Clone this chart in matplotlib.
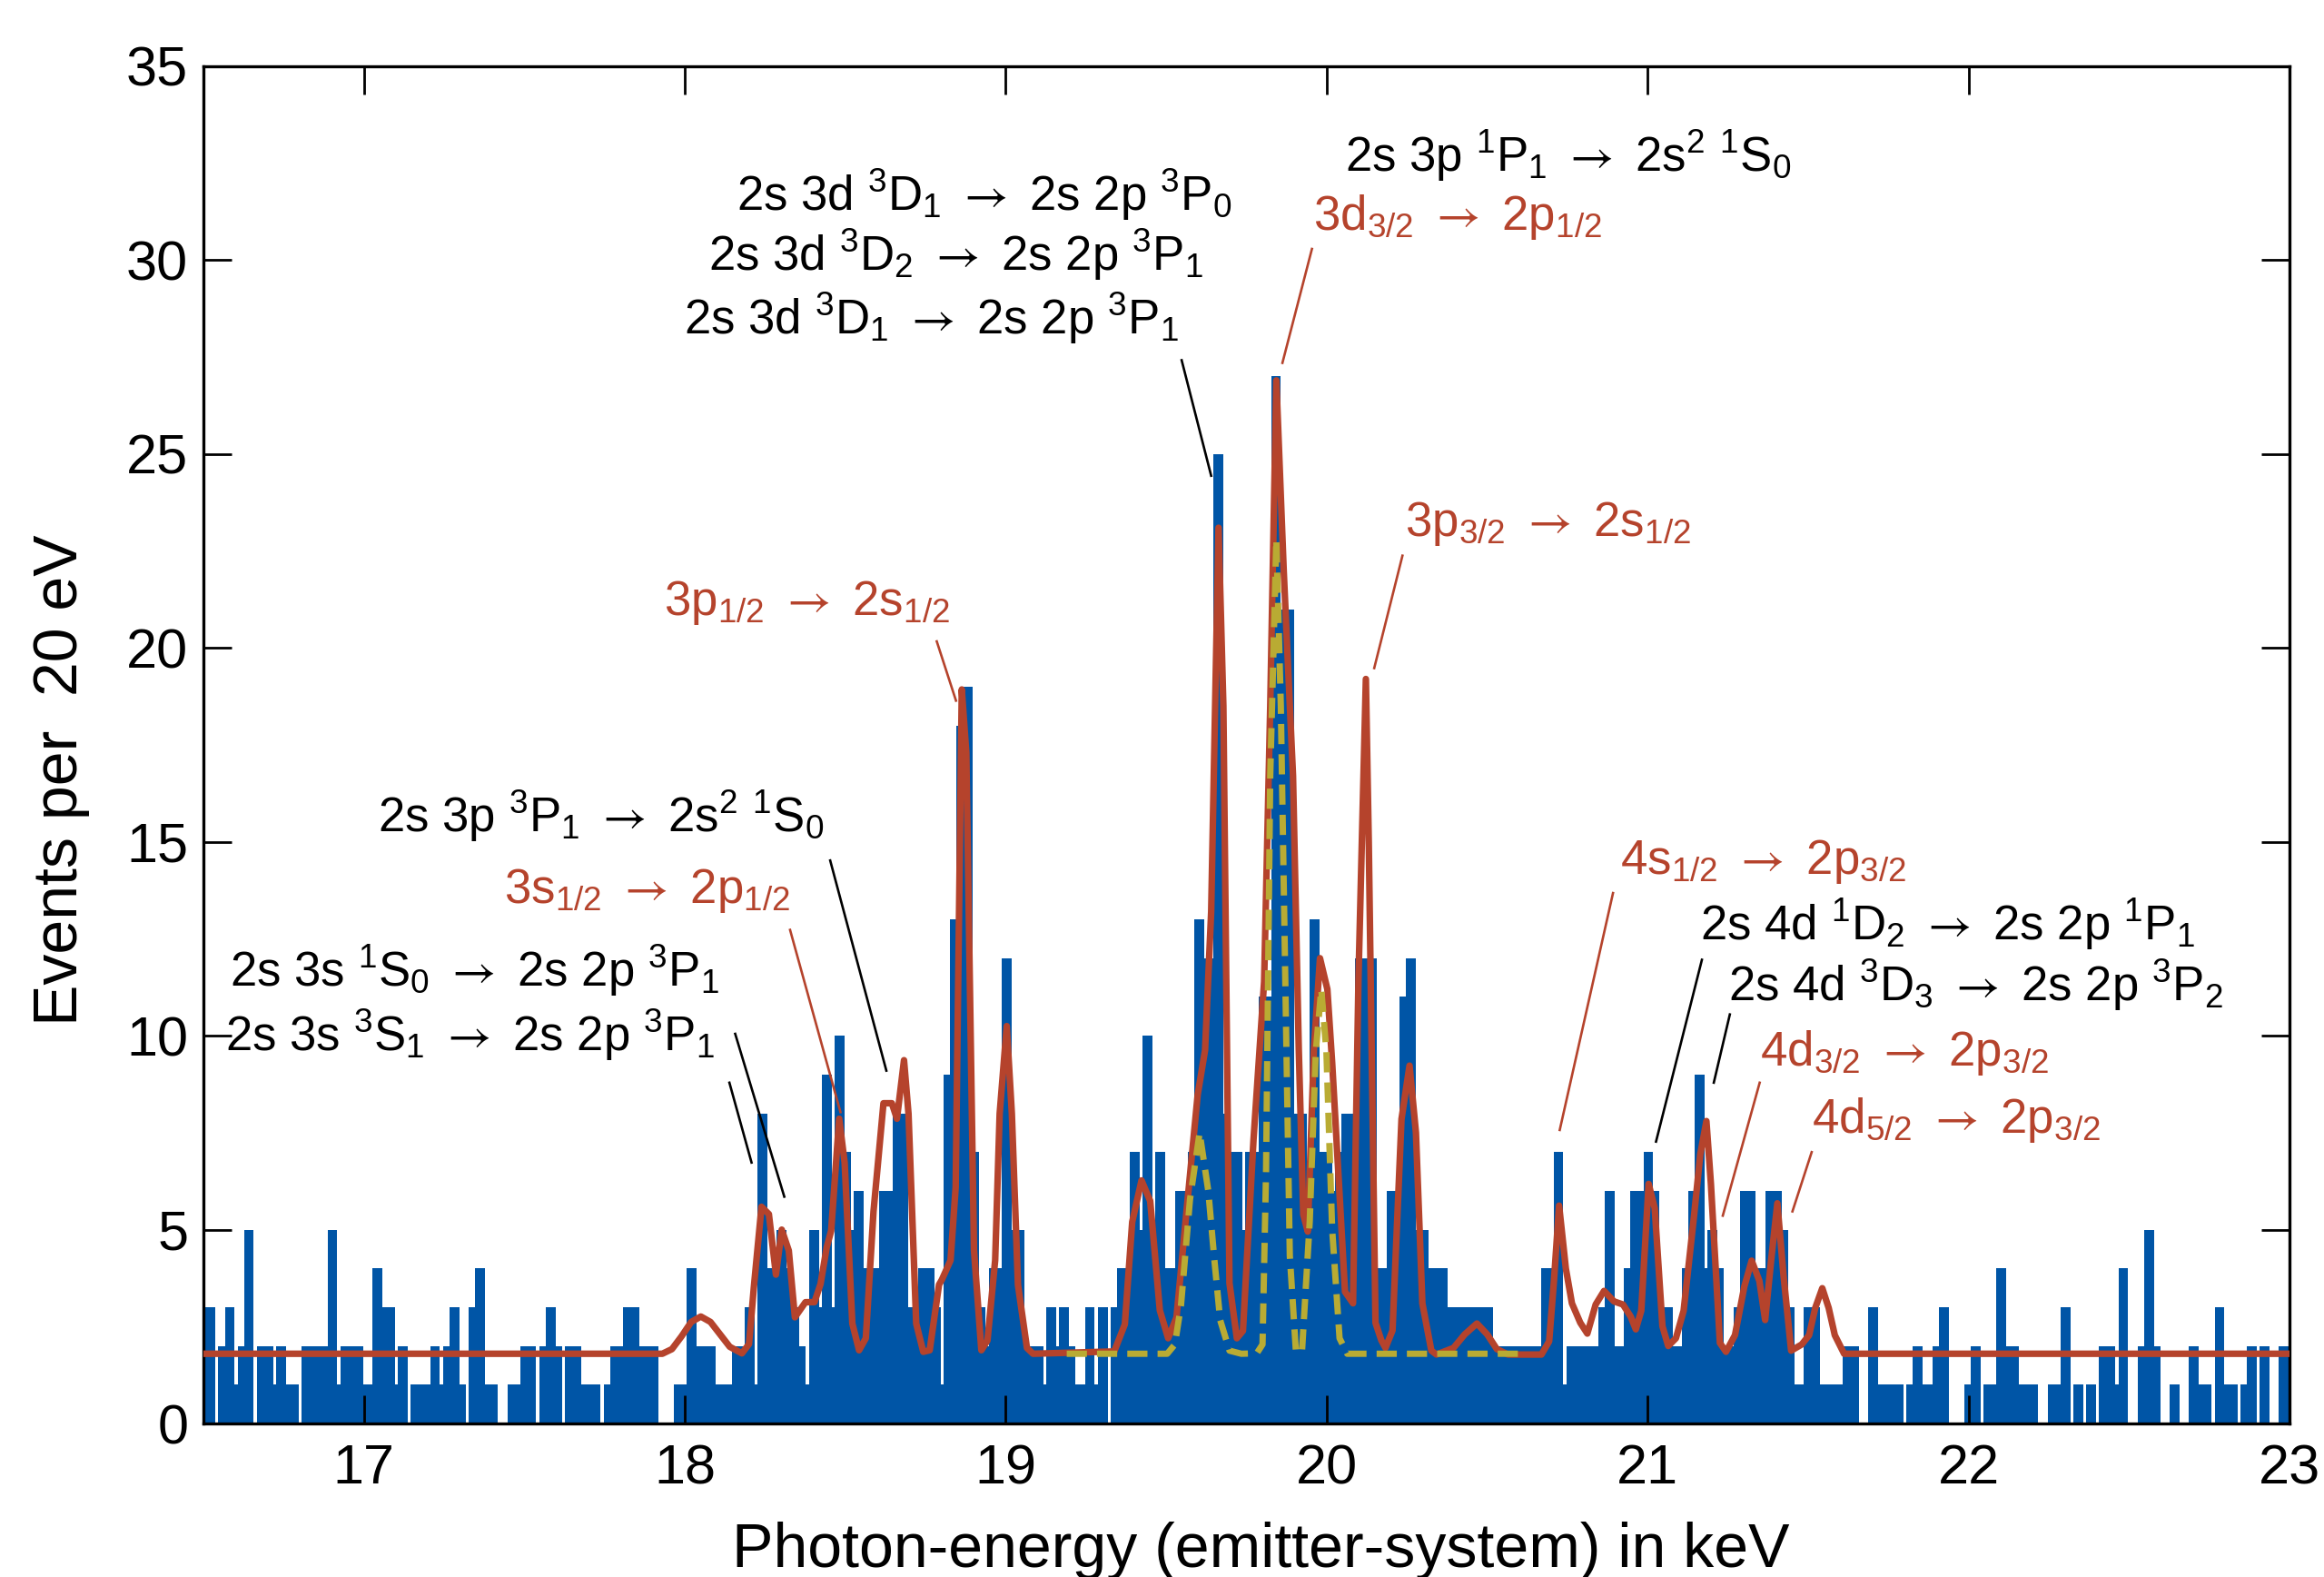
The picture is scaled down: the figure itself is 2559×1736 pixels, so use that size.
import numpy as np
import matplotlib.pyplot as plt

plt.rcParams['font.family'] = ['Liberation Sans', 'DejaVu Sans']
plt.rcParams['mathtext.fontset'] = 'custom'
plt.rcParams['mathtext.rm'] = 'Liberation Sans'
plt.rcParams['mathtext.it'] = 'Liberation Sans:italic'
plt.rcParams['mathtext.bf'] = 'Liberation Sans:bold'
plt.rcParams['mathtext.sf'] = 'STIXGeneral'

BLUE = '#0055A6'
RED = '#B5432C'
OLIVE = '#B9AB33'
ARROW = r'$\mathsf{\rightarrow}$'

# events per 20 eV bin, first bin centred at 16.502 keV
bin_start = 16.502
bin_step = 0.02
counts = [
    3, 3, 0, 2, 3, 1, 2, 5, 0, 2,
    2, 1, 2, 1, 1, 0, 2, 2, 2, 2,
    5, 1, 2, 2, 2, 1, 1, 4, 3, 3,
    1, 2, 0, 1, 1, 1, 2, 1, 2, 3,
    1, 0, 3, 4, 1, 1, 0, 0, 1, 1,
    2, 2, 0, 2, 3, 2, 0, 2, 2, 1,
    1, 1, 0, 1, 2, 2, 3, 3, 2, 2,
    2, 0, 0, 0, 1, 1, 4, 2, 2, 2,
    1, 1, 1, 2, 2, 3, 1, 8, 4, 4,
    5, 4, 3, 2, 1, 5, 3, 9, 3, 10,
    7, 5, 6, 4, 4, 4, 6, 6, 8, 8,
    3, 3, 4, 4, 3, 1, 9, 13, 18, 19,
    7, 3, 2, 4, 4, 12, 5, 5, 2, 2,
    2, 1, 3, 2, 3, 2, 1, 1, 3, 1,
    3, 0, 3, 4, 4, 7, 5, 10, 5, 7,
    4, 4, 6, 6, 7, 13, 12, 12, 25, 8,
    7, 7, 5, 7, 7, 11, 11, 27, 21, 21,
    8, 8, 6, 13, 7, 7, 6, 7, 8, 8,
    12, 12, 12, 4, 4, 6, 6, 11, 12, 5,
    5, 4, 4, 4, 3, 3, 3, 3, 3, 3,
    3, 2, 2, 2, 2, 2, 2, 2, 2, 4,
    4, 7, 1, 2, 2, 2, 2, 2, 3, 6,
    2, 2, 4, 6, 6, 7, 6, 3, 3, 2,
    2, 4, 6, 9, 4, 5, 4, 2, 2, 3,
    6, 6, 4, 4, 6, 6, 5, 3, 1, 1,
    3, 3, 1, 1, 1, 1, 2, 2, 0, 0,
    3, 1, 1, 1, 1, 0, 1, 2, 1, 1,
    2, 3, 0, 0, 0, 1, 2, 0, 1, 1,
    4, 2, 2, 1, 1, 1, 0, 0, 1, 1,
    3, 0, 1, 0, 1, 0, 2, 2, 1, 4,
    0, 0, 2, 5, 2, 0, 0, 1, 0, 0,
    2, 1, 1, 0, 3, 1, 1, 0, 1, 2,
    0, 2, 0, 0, 2,
]

# fitted spectrum (red)
fit_energy = [
    16.5, 17.93, 17.96, 17.99, 18.02, 18.05, 18.08, 18.11, 18.14, 18.178,
    18.20, 18.215, 18.239, 18.262, 18.284, 18.302, 18.324, 18.343, 18.376, 18.404,
    18.423, 18.442, 18.456, 18.481, 18.498, 18.522, 18.543, 18.564, 18.588, 18.619,
    18.645, 18.661, 18.683, 18.697, 18.721, 18.743, 18.763, 18.792, 18.801, 18.828,
    18.844, 18.863, 18.877, 18.901, 18.924, 18.943, 18.967, 18.981, 19.003, 19.019,
    19.038, 19.066, 19.085, 19.338, 19.371, 19.394, 19.423, 19.450, 19.480, 19.506,
    19.532, 19.560, 19.598, 19.621, 19.640, 19.663, 19.678, 19.697, 19.720, 19.739,
    19.772, 19.805, 19.824, 19.843, 19.866, 19.895, 19.913, 19.927, 19.941, 19.960,
    19.979, 20.002, 20.017, 20.057, 20.082, 20.099, 20.122, 20.131, 20.152, 20.170,
    20.183, 20.205, 20.233, 20.258, 20.278, 20.298, 20.326, 20.342, 20.395, 20.430,
    20.468, 20.500, 20.530, 20.565, 20.669, 20.693, 20.708, 20.724, 20.745, 20.764,
    20.790, 20.812, 20.838, 20.864, 20.895, 20.923, 20.947, 20.963, 20.980, 21.003,
    21.022, 21.046, 21.064, 21.088, 21.112, 21.145, 21.164, 21.183, 21.197, 21.225,
    21.244, 21.272, 21.301, 21.324, 21.348, 21.366, 21.385, 21.404, 21.423, 21.447,
    21.480, 21.503, 21.522, 21.544, 21.564, 21.583, 21.612, 23.0,
]
fit_counts = [
    1.8, 1.8, 1.92, 2.25, 2.62, 2.76, 2.62, 2.30, 1.98, 1.81,
    2.05, 3.5, 5.59, 5.4, 3.84, 5.0, 4.46, 2.74, 3.13, 3.13,
    3.6, 4.54, 4.97, 7.86, 6.73, 2.58, 1.89, 2.2, 5.47, 8.26,
    8.26, 7.86, 9.37, 7.99, 2.58, 1.85, 1.89, 3.58, 3.71, 4.21,
    6.1, 18.93, 17.3, 4.47, 1.89, 2.14, 4.21, 7.99, 10.25, 7.99,
    3.58, 1.95, 1.8, 1.86, 2.56, 5.2, 6.27, 5.74, 2.92, 2.2,
    2.74, 5.2, 8.48, 9.63, 13.2, 23.1, 18.5, 3.62, 2.2, 2.39,
    7.33, 11.4, 18.5, 26.9, 22.0, 16.7, 9.63, 5.39, 4.95, 9.63,
    12.0, 11.2, 9.3, 3.4, 3.1, 11.5, 19.2, 15.0, 2.6, 2.15,
    1.95, 2.4, 7.85, 9.23, 7.5, 3.1, 1.88, 1.78, 1.95, 2.3,
    2.58, 2.3, 1.92, 1.78, 1.78, 2.12, 3.68, 5.62, 4.0, 3.1,
    2.6, 2.32, 3.07, 3.42, 3.15, 3.07, 2.76, 2.43, 2.91, 6.18,
    5.55, 2.51, 2.0, 2.2, 2.91, 5.4, 6.95, 7.8, 6.18, 2.08,
    1.85, 2.28, 3.53, 4.2, 3.68, 2.67, 4.24, 5.68, 3.84, 1.88,
    2.04, 2.28, 2.98, 3.49, 2.98, 2.28, 1.8, 1.8,
]

# n = 3 -> 2 model lines (olive, dashed)
model_energy = [
    19.19, 19.503, 19.527, 19.546, 19.574, 19.604, 19.631, 19.650, 19.668, 19.697,
    19.734, 19.782, 19.800, 19.811, 19.824, 19.843, 19.857, 19.871, 19.885, 19.904,
    19.923, 19.947, 19.966, 19.983, 19.999, 20.017, 20.040, 20.064, 20.612,
]
model_counts = [
    1.8, 1.8, 2.04, 3.05, 5.78, 7.5, 6.0, 4.22, 2.67, 1.88,
    1.8, 1.81, 2.04, 6.5, 16.7, 22.8, 18.5, 11.4, 4.33, 1.86,
    1.86, 5.2, 9.6, 11.2, 9.6, 5.0, 2.2, 1.8, 1.8,
]

# transition labels: text, colour, text position, leader lines
labels = [
    (r'2s 3d $^{3}$D$_{1}$ A 2s 2p $^{3}$P$_{0}$', 'k', (18.162, 31.28), []),
    (r'2s 3d $^{3}$D$_{2}$ A 2s 2p $^{3}$P$_{1}$', 'k', (18.074, 29.72), []),
    (r'2s 3d $^{3}$D$_{1}$ A 2s 2p $^{3}$P$_{1}$', 'k', (17.996, 28.08),
     [((19.548, 27.42), (19.640, 24.44))]),
    (r'2s 3p $^{1}$P$_{1}$ A 2s$^{2}$ $^{1}$S$_{0}$', 'k', (20.056, 32.28), []),
    (r'3d$_{3/2}$ A 2p$_{1/2}$', RED, (19.959, 30.79),
     [((19.954, 30.29), (19.862, 27.35))]),
    (r'3p$_{3/2}$ A 2s$_{1/2}$', RED, (20.245, 22.89),
     [((20.236, 22.38), (20.148, 19.48))]),
    (r'3p$_{1/2}$ A 2s$_{1/2}$', RED, (17.935, 20.86),
     [((18.785, 20.17), (18.845, 18.64))]),
    (r'2s 3p $^{3}$P$_{1}$ A 2s$^{2}$ $^{1}$S$_{0}$', 'k', (17.044, 15.25),
     [((18.453, 14.52), (18.628, 9.1))]),
    (r'3s$_{1/2}$ A 2p$_{1/2}$', RED, (17.437, 13.42),
     [((18.328, 12.73), (18.485, 8.03))]),
    (r'2s 3s $^{1}$S$_{0}$ A 2s 2p $^{3}$P$_{1}$', 'k', (16.582, 11.28),
     [((18.157, 10.05), (18.31, 5.85))]),
    (r'2s 3s $^{3}$S$_{1}$ A 2s 2p $^{3}$P$_{1}$', 'k', (16.568, 9.6),
     [((18.139, 8.79), (18.208, 6.73))]),
    (r'4s$_{1/2}$ A 2p$_{3/2}$', RED, (20.915, 14.18),
     [((20.892, 13.68), (20.726, 7.57))]),
    (r'2s 4d $^{1}$D$_{2}$ A 2s 2p $^{1}$P$_{1}$', 'k', (21.164, 12.46),
     [((21.169, 11.96), (21.026, 7.27))]),
    (r'2s 4d $^{3}$D$_{3}$ A 2s 2p $^{3}$P$_{2}$', 'k', (21.252, 10.9),
     [((21.256, 10.55), (21.206, 8.79))]),
    (r'4d$_{3/2}$ A 2p$_{3/2}$', RED, (21.349, 9.22),
     [((21.349, 8.79), (21.234, 5.36))]),
    (r'4d$_{5/2}$ A 2p$_{3/2}$', RED, (21.511, 7.5),
     [((21.511, 7.0), (21.451, 5.47))]),
]

fig = plt.figure(figsize=(25.59, 17.36), dpi=100)
ax = fig.add_axes([0.0875, 0.0973, 0.8977, 0.8607])

centers = bin_start + bin_step * np.arange(len(counts))
ax.bar(centers, counts, width=0.0305, color=BLUE, edgecolor='none',
       linewidth=0, zorder=1)

ax.plot(fit_energy, fit_counts, color=RED, lw=5.2, zorder=3,
        solid_joinstyle='round')
ax.plot(model_energy, model_counts, color=OLIVE, lw=5.0, zorder=4,
        dashes=(3.2, 1.6))

for text, col, (tx, ty), leaders in labels:
    text = text.replace(' A ', ' ' + ARROW + ' ')
    ax.text(tx, ty, text, color=col, fontsize=38, ha='left', va='baseline',
            zorder=5)
    for (x0, y0), (x1, y1) in leaders:
        ax.plot([x0, x1], [y0, y1], color=col, lw=1.9, zorder=5)

ax.set_xlim(16.5, 23)
ax.set_ylim(0, 35)
ax.set_xticks(range(17, 24))
ax.set_yticks(range(0, 36, 5))
ax.tick_params(direction='in', length=22, width=2, top=True, right=True,
               labelsize=44)
ax.tick_params(axis='x', pad=16)
ax.tick_params(axis='y', pad=12)
for sp in ax.spines.values():
    sp.set_linewidth(2.4)

ax.set_xlabel('Photon-energy (emitter-system) in keV', fontsize=49)
ax.set_ylabel('Events per  20 eV', fontsize=49)
ax.xaxis.set_label_coords(0.507, -0.072)
ax.yaxis.set_label_coords(-0.0545, 0.474)

fig.savefig('out.png', dpi=100)
